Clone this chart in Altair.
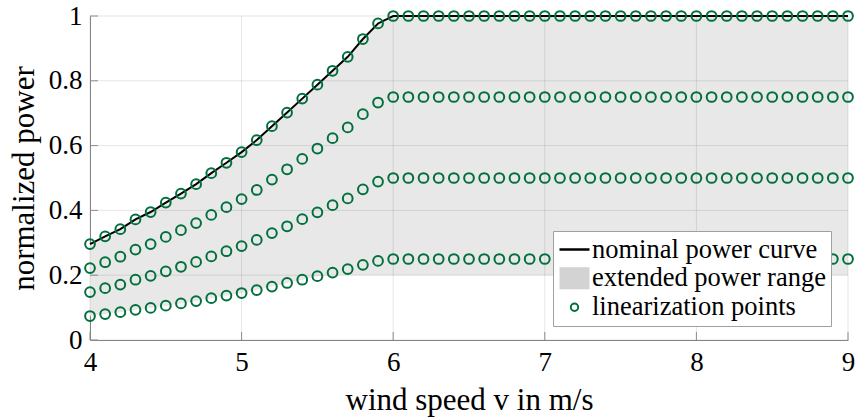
import altair as alt
import pandas as pd

# ---------------- data ----------------
wind = [4.0, 4.1, 4.2, 4.3, 4.4, 4.5, 4.6, 4.7, 4.8, 4.9,
        5.0, 5.1, 5.2, 5.3, 5.4, 5.5, 5.6, 5.7, 5.8, 5.9,
        6.0, 6.1, 6.2, 6.3, 6.4, 6.5, 6.6, 6.7, 6.8, 6.9,
        7.0, 7.1, 7.2, 7.3, 7.4, 7.5, 7.6, 7.7, 7.8, 7.9,
        8.0, 8.1, 8.2, 8.3, 8.4, 8.5, 8.6, 8.7, 8.8, 8.9, 9.0]

nominal = [0.296, 0.320, 0.342, 0.372, 0.395, 0.424, 0.452, 0.481, 0.515, 0.547,
           0.580, 0.617, 0.660, 0.702, 0.745, 0.788, 0.831, 0.874, 0.929, 0.977] + [1.0] * 31

level_75 = [0.222, 0.240, 0.257, 0.279, 0.296, 0.318, 0.339, 0.361, 0.386, 0.410,
            0.435, 0.463, 0.495, 0.527, 0.559, 0.591, 0.623, 0.656, 0.697, 0.733] + [0.75] * 31

level_50 = [0.148, 0.160, 0.171, 0.186, 0.198, 0.212, 0.226, 0.241, 0.258, 0.274,
            0.290, 0.309, 0.330, 0.351, 0.373, 0.394, 0.416, 0.437, 0.465, 0.489] + [0.5] * 31

level_25 = [0.074, 0.080, 0.086, 0.093, 0.099, 0.106, 0.113, 0.120, 0.129, 0.137,
            0.145, 0.154, 0.165, 0.176, 0.186, 0.197, 0.208, 0.219, 0.232, 0.244] + [0.25] * 31

range_low = [0.074, 0.080, 0.086, 0.093, 0.099, 0.106, 0.113, 0.120, 0.129, 0.137,
             0.145, 0.154, 0.165, 0.176, 0.186, 0.197] + [0.2] * 35

x_ticks = [4, 5, 6, 7, 8, 9]
y_ticks = [0, 0.2, 0.4, 0.6, 0.8, 1]

legend_labels = ["nominal power curve", "extended power range", "linearization points"]

# ---------------- styling ----------------
FONT = "Liberation Serif, DejaVu Serif, serif"
GREEN = "#00703C"
AREA_GRAY = "#e8e8e8"
SWATCH_GRAY = "#d3d3d3"
AXIS_GRAY = "#8c8c8c"
W, H = 758, 324

df_curve = pd.DataFrame({"v": wind, "p": nominal, "low": range_low})
pts = []
for vals in (nominal, level_75, level_50, level_25):
    for v, p in zip(wind, vals):
        pts.append({"v": v, "p": p})
df_pts = pd.DataFrame(pts)
df_xt = pd.DataFrame({"t": x_ticks})
df_yt = pd.DataFrame({"t": y_ticks})
df_leg = pd.DataFrame({"series": legend_labels})

xscale = alt.Scale(domain=[4, 9], nice=False, zero=False)
yscale = alt.Scale(domain=[0, 1], nice=False, zero=False)

xaxis = alt.Axis(values=x_ticks, format="d", grid=False, ticks=False,
                 domainColor=AXIS_GRAY, domainWidth=1,
                 labelFont=FONT, labelFontSize=27, labelColor="black", labelPadding=9,
                 labelFlush=False,
                 title="wind speed v in m/s", titleFont=FONT, titleFontSize=31,
                 titleFontWeight="normal", titleColor="black", titlePadding=10)
yaxis = alt.Axis(values=y_ticks, format="~g", grid=False, ticks=False,
                 domainColor=AXIS_GRAY, domainWidth=1,
                 labelFont=FONT, labelFontSize=27, labelColor="black", labelPadding=8,
                 labelFlush=False,
                 title="normalized power", titleFont=FONT, titleFontSize=31,
                 titleFontWeight="normal", titleColor="black", titlePadding=8)

area = alt.Chart(df_curve).mark_area(color=AREA_GRAY, opacity=1).encode(
    x=alt.X("v:Q", scale=xscale, axis=xaxis),
    y=alt.Y("p:Q", scale=yscale, axis=yaxis),
    y2="low:Q",
)

xgrid = alt.Chart(df_xt).mark_rule(color="black", opacity=0.1, strokeWidth=1).encode(
    x=alt.X("t:Q", scale=xscale), y=alt.value(0), y2=alt.value(H))
ygrid = alt.Chart(df_yt).mark_rule(color="black", opacity=0.1, strokeWidth=1).encode(
    y=alt.Y("t:Q", scale=yscale), x=alt.value(0), x2=alt.value(W))

xtick = alt.Chart(df_xt).mark_rule(color=AXIS_GRAY, strokeWidth=1).encode(
    x=alt.X("t:Q", scale=xscale), y=alt.value(H), y2=alt.value(H - 8))
ytick = alt.Chart(df_yt).mark_rule(color=AXIS_GRAY, strokeWidth=1).encode(
    y=alt.Y("t:Q", scale=yscale), x=alt.value(0), x2=alt.value(8))

line = alt.Chart(df_curve).mark_line(color="black", strokeWidth=2).encode(
    x=alt.X("v:Q", scale=xscale), y=alt.Y("p:Q", scale=yscale))

points = alt.Chart(df_pts).mark_point(filled=False, size=95, strokeWidth=2, opacity=1,
                                      color=GREEN).encode(
    x=alt.X("v:Q", scale=xscale),
    y=alt.Y("p:Q", scale=yscale),
)

legend = alt.Legend(
    title=None, orient="none", legendX=463, legendY=215,
    labelFont=FONT, labelFontSize=26.5, labelColor="black", labelLimit=0,
    labelOffset=4, rowPadding=2, padding=5, symbolOpacity=1, symbolOffset=3,
    fillColor="white", strokeColor="#a0a0a0",
)

# invisible layer that only carries the legend
legend_layer = alt.Chart(df_leg).mark_point(opacity=0).encode(
    x=alt.value(0), y=alt.value(0),
    stroke=alt.Stroke("series:N", scale=alt.Scale(domain=legend_labels,
                      range=["black", "transparent", GREEN]), legend=legend),
    fill=alt.Fill("series:N", scale=alt.Scale(domain=legend_labels,
                  range=["transparent", SWATCH_GRAY, "transparent"]), legend=legend),
    shape=alt.Shape("series:N", scale=alt.Scale(domain=legend_labels,
                    range=["M-1.25,0H1.25", "M-1.25,-0.92H1.25V0.92H-1.25Z", "circle"]),
                    legend=legend),
    size=alt.Size("series:N", scale=alt.Scale(type="ordinal", domain=legend_labels,
                  range=[576, 576, 55]), legend=legend),
    strokeWidth=alt.StrokeWidth("series:N", scale=alt.Scale(type="ordinal", domain=legend_labels,
                                range=[2.5, 0, 2]), legend=legend),
)

chart = alt.layer(area, xgrid, ygrid, line, points, xtick, ytick, legend_layer).properties(
    width=W, height=H,
    autosize=alt.AutoSizeParams(type="none"),
    padding={"left": 90, "top": 16, "right": 8, "bottom": 79},
    background="white",
).configure_view(stroke=None)

chart.save("out.html", embed_options={"renderer": "svg", "actions": False})
